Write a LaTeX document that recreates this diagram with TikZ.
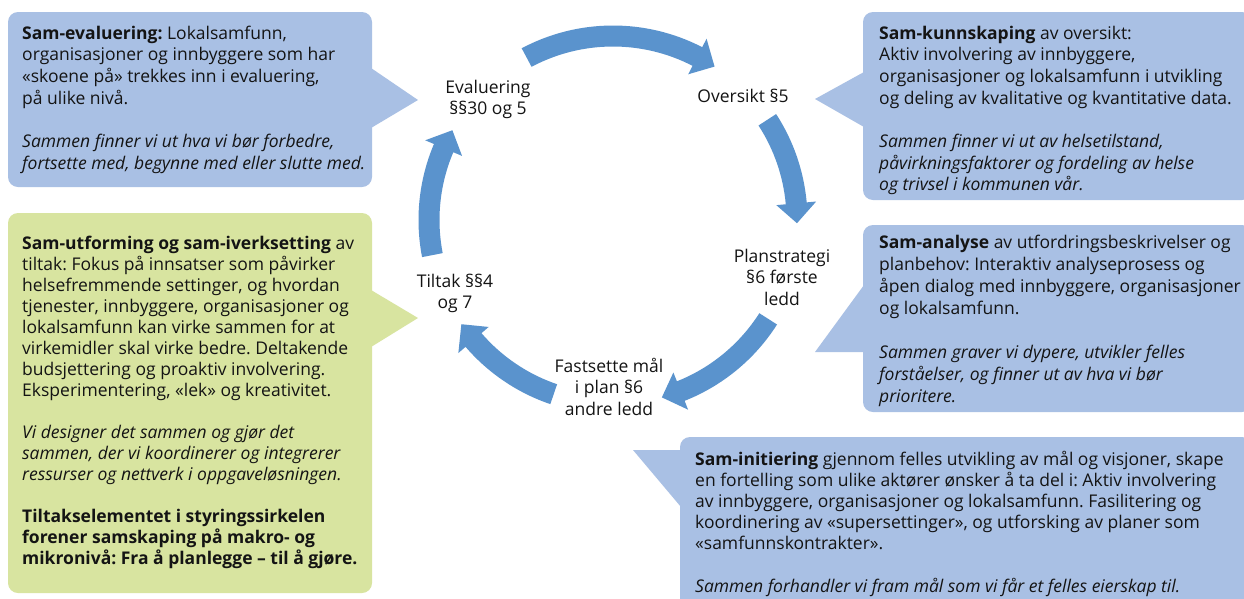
\documentclass[tikz,border=0pt]{standalone}
\usepackage{fontspec}
\setmainfont{Open Sans}
\definecolor{boxblue}{HTML}{A9C0E4}
\definecolor{boxgreen}{HTML}{D8E4A0}
\definecolor{arrowblue}{HTML}{5A93CD}
\definecolor{txt}{HTML}{141414}
\tikzset{
  callout/.style={draw=none},
  boxtext/.style={anchor=base west, inner sep=0pt, text=txt},
  lbl/.style={anchor=base, inner sep=0pt, text=txt},
  cycarrow/.style={fill=arrowblue, draw=none},
}
\newcommand{\txtsize}[1]{\fontsize{17.5}{#1}\selectfont\frenchspacing}
% curved block arrow: start angle, head-base angle, tip angle
\newcommand{\cycarrowpath}[3]{%
  \fill[cycarrow] (#1:194.5pt) arc[start angle=#1, end angle=#2, radius=194.5pt]
    -- (#2:204pt) -- (#3:184pt) -- (#2:164pt) -- (#2:173.5pt)
    arc[start angle=#2, end angle=#1, radius=173.5pt] -- cycle;}
\begin{document}
\begin{tikzpicture}[x=1pt,y=1pt]
\useasboundingbox (0,0) rectangle (1244,-598);
\clip (0,0) rectangle (1244,-598);
\fill[white] (0,0) rectangle (1244,-598);

% ---------- callout boxes ----------
\fill[boxblue, rounded corners=10pt] (8,-12) rectangle (372,-187);
\fill[boxblue] (371,-68) -- (418,-100) -- (371,-128) -- cycle;

\fill[boxblue, rounded corners=10pt] (863,-12) rectangle (1252,-200);
\fill[boxblue] (864,-72) -- (815,-99) -- (864,-127) -- cycle;

\fill[boxgreen, rounded corners=10pt] (8,-213) rectangle (372,-593);
\fill[boxgreen] (371,-290) -- (418,-318) -- (371,-347) -- cycle;

\fill[boxblue, rounded corners=10pt] (863,-225) rectangle (1252,-412);
\fill[boxblue] (864,-285) -- (815,-352) -- (864,-352) -- cycle;

\fill[boxblue, rounded corners=10pt] (680,-437) rectangle (1252,-620);
\fill[boxblue] (681,-450) -- (633,-450) -- (681,-507) -- cycle;

% ---------- box texts ----------
\node[boxtext] (t1) at (22,-39) {\txtsize{21.7}\begin{tabular}[t]{@{}l@{}}
\textbf{Sam-evaluering:} Lokalsamfunn,\\
organisasjoner og innbyggere som har\\
«skoene på» trekkes inn i evaluering,\\
på ulike nivå.\\
\\
\textit{Sammen finner vi ut hva vi bør forbedre,}\\
\textit{fortsette med, begynne med eller slutte med.}
\end{tabular}};

\node[boxtext] (t2) at (879,-39) {\txtsize{21.7}\begin{tabular}[t]{@{}l@{}}
\textbf{Sam-kunnskaping} av oversikt:\\
Aktiv involvering av innbyggere,\\
organisasjoner og lokalsamfunn i utvikling\\
og deling av kvalitative og kvantitative data.\\
\\
\textit{Sammen finner vi ut av helsetilstand,}\\
\textit{påvirkningsfaktorer og fordeling av helse}\\
\textit{og trivsel i kommunen vår.}
\end{tabular}};

\node[boxtext] (t3) at (22,-249) {\txtsize{21}\begin{tabular}[t]{@{}l@{}}
\textbf{Sam-utforming og sam-iverksetting} av\\
tiltak: Fokus på innsatser som påvirker\\
helsefremmende settinger, og hvordan\\
tjenester, innbyggere, organisasjoner og\\
lokalsamfunn kan virke sammen for at\\
virkemidler skal virke bedre. Deltakende\\
budsjettering og proaktiv involvering.\\
Eksperimentering, «lek» og kreativitet.\\
\\
\textit{Vi designer det sammen og gjør det}\\
\textit{sammen, der vi koordinerer og integrerer}\\
\textit{ressurser og nettverk i oppgaveløsningen.}\\
\\
\textbf{Tiltakselementet i styringssirkelen}\\
\textbf{forener samskaping på makro- og}\\
\textbf{mikronivå: Fra å planlegge – til å gjøre.}
\end{tabular}};

\node[boxtext] (t4) at (879,-248) {\txtsize{22}\begin{tabular}[t]{@{}l@{}}
\textbf{Sam-analyse} av utfordringsbeskrivelser og\\
planbehov: Interaktiv analyseprosess og\\
åpen dialog med innbyggere, organisasjoner\\
og lokalsamfunn.\\
\\
\textit{Sammen graver vi dypere, utvikler felles}\\
\textit{forståelser, og finner ut av hva vi bør}\\
\textit{prioritere.}
\end{tabular}};

\node[boxtext] (t5) at (695,-465) {\txtsize{21.2}\begin{tabular}[t]{@{}l@{}}
\textbf{Sam-initiering} gjennom felles utvikling av mål og visjoner, skape\\
en fortelling som ulike aktører ønsker å ta del i: Aktiv involvering\\
av innbyggere, organisasjoner og lokalsamfunn. Fasilitering og\\
koordinering av «supersettinger», og utforsking av planer som\\
«samfunnskontrakter».\\
\\
\textit{Sammen forhandler vi fram mål som vi får et felles eierskap til.}
\end{tabular}};

% ---------- cycle arrows ----------
\begin{scope}[shift={(613,-220)}]
\cycarrowpath{118}{62.7}{56.5}
\cycarrowpath{33}{5.2}{-1}
\cycarrowpath{-32.5}{-68.4}{-74.6}
\cycarrowpath{-108.8}{-139.3}{-145.5}
\cycarrowpath{191}{157}{150.8}
\end{scope}

% ---------- cycle labels ----------
\node[lbl] (eval) at (488,-93) {\txtsize{21.7}\begin{tabular}[t]{@{}c@{}}Evaluering\\ §§30 og 5\end{tabular}};
\node[lbl] (overs) at (743,-102) {\txtsize{21.7}Oversikt §5};
\node[lbl] (plan) at (782,-262) {\txtsize{21.7}\begin{tabular}[t]{@{}c@{}}Planstrategi\\ §6 første\\ ledd\end{tabular}};
\node[lbl] (fast) at (609,-372) {\txtsize{21.7}\begin{tabular}[t]{@{}c@{}}Fastsette mål\\ i plan §6\\ andre ledd\end{tabular}};
\node[lbl] (tilt) at (455,-287) {\txtsize{21.7}\begin{tabular}[t]{@{}c@{}}Tiltak §§4\\ og 7\end{tabular}};
\end{tikzpicture}
\end{document}
